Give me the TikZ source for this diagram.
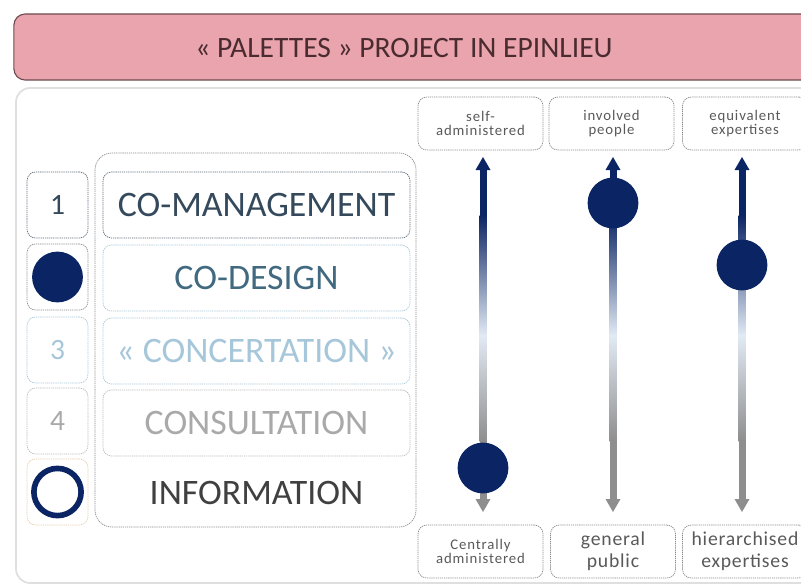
\documentclass[tikz,border=0pt]{standalone}
\usepackage{fontspec}
\setmainfont{Carlito}
\usetikzlibrary{positioning}
\definecolor{titlepink}{HTML}{E9A4AD}
\definecolor{titleedge}{HTML}{6E4B4E}
\definecolor{titletext}{HTML}{4A2B30}
\definecolor{navy}{HTML}{0B2463}
\definecolor{edgegray}{HTML}{8C8C8C}
\definecolor{paleblue}{HTML}{A6C6DA}
\definecolor{midblue}{HTML}{41697F}
\definecolor{slate}{HTML}{34495C}
\definecolor{lightgray}{HTML}{A9A9A9}
\definecolor{shaftlight}{HTML}{E2EAF4}
\definecolor{shaftgray}{HTML}{8E8E8E}
\begin{document}
\begin{tikzpicture}[x=0.025cm, y=-0.025cm,
    box/.style={draw=edgegray, dash pattern=on 0.9pt off 0.6pt, rounded corners=6pt, line width=0.5pt},
    level/.style={box, minimum width=7.67cm, minimum height=1.65cm, inner sep=0pt, font=\fontsize{25.5}{28}\selectfont},
    numbox/.style={box, minimum width=1.52cm, minimum height=1.65cm, inner sep=0pt, font=\fontsize{21}{24}\selectfont},
    tag/.style={box, minimum width=3.12cm, minimum height=1.32cm, inner sep=0pt, align=center, text=black!65},
    small/.style={font=\fontsize{10.5}{10.5}\selectfont\addfontfeature{LetterSpace=6}},
    large/.style={font=\fontsize{14}{15.5}\selectfont\addfontfeature{LetterSpace=4}},
    dot/.style={circle, fill=navy, minimum size=1.27cm, inner sep=0pt},
]
\useasboundingbox (0,0) rectangle (801,585);

% title bar
\node[draw=titleedge, fill=titlepink, rounded corners=8pt, line width=0.8pt,
      minimum width=20cm, minimum height=1.65cm] (bar) at (414,47) {};
\node[text=titletext, font=\fontsize{21}{24}\selectfont] (title) at (404,48) {« PALETTES » PROJECT IN EPINLIEU};

% background frame
\draw[gray!25, line width=1.2pt, rounded corners=10pt] (16,88) rectangle (820,583);

% levels of participation
\draw[box, rounded corners=12pt] (95,153) rectangle (416,527);
\node[level, draw=slate!80, text=slate] (comanagement) at (256.5,205) {CO-MANAGEMENT};
\node[level, draw=paleblue, text=midblue] (codesign) at (256.5,278) {CO-DESIGN};
\node[level, draw=paleblue, text=paleblue] (concertation) at (256.5,351) {« CONCERTATION »};
\node[level, draw=lightgray!80, text=lightgray] (consultation) at (256.5,423) {CONSULTATION};
\node[level, draw=none, text=black!75] (information) at (256.5,493) {INFORMATION};

\node[numbox, draw=slate!80, text=slate] (n1) at (57.5,205) {1};
\node[numbox] (n2) at (57.5,277) {};
\node[numbox, draw=paleblue, text=paleblue] (n3) at (57.5,350) {3};
\node[numbox, draw=lightgray!80, text=lightgray] (n4) at (57.5,421) {4};
\node[numbox, draw=brown!40] (n5) at (57.5,492) {};
\node[dot] (d2) at (n2) {};
\node[circle, draw=navy, line width=4pt, minimum size=1.18cm] (d5) at (n5) {};

% scales
\node[tag, small] (t1) at (480.5,123.5) {self-\\administered};
\node[tag, small] (t2) at (611.5,123.5) {involved\\people};
\node[tag, small] (t3) at (745,123.5) {equivalent\\expertises};
\node[tag, small] (b1) at (480.5,551.5) {Centrally\\administered};
\node[tag, large] (b2) at (613,551.5) {general\\public};
\node[tag, large] (b3) at (745,551.5) {hierarchised\\expertises};

\foreach \x/\y/\n in {483/468/1, 613/203/2, 742/265/3} {
  \fill[navy] (\x-3.5,168) rectangle (\x+3.5,216);
  \shade[top color=navy, bottom color=shaftlight] (\x-3.5,215) rectangle (\x+3.5,336);
  \shade[top color=shaftlight, bottom color=shaftgray] (\x-3.5,335) rectangle (\x+3.5,441);
  \fill[shaftgray] (\x-3.5,440) rectangle (\x+3.5,500);
  \fill[navy] (\x,157) -- (\x+7.5,170) -- (\x-7.5,170) -- cycle;
  \fill[shaftgray] (\x,512) -- (\x+7.5,499) -- (\x-7.5,499) -- cycle;
  \node[dot] (s\n) at (\x,\y) {};
}
\end{tikzpicture}
\end{document}
